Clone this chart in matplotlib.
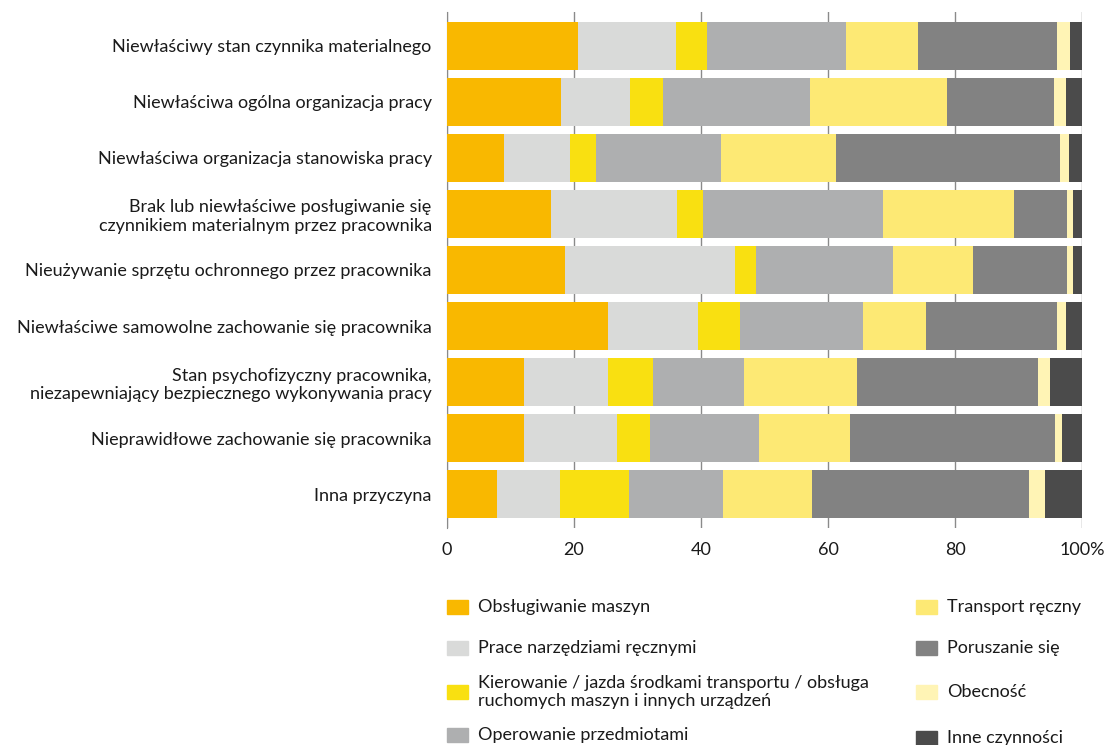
import numpy as np
import matplotlib.pyplot as plt
from matplotlib.patches import Rectangle

plt.rcParams['font.family'] = ['Lato', 'DejaVu Sans']

causes = [
    'Niewłaściwy stan czynnika materialnego',
    'Niewłaściwa ogólna organizacja pracy',
    'Niewłaściwa organizacja stanowiska pracy',
    'Brak lub niewłaściwe posługiwanie się\nczynnikiem materialnym przez pracownika',
    'Nieużywanie sprzętu ochronnego przez pracownika',
    'Niewłaściwe samowolne zachowanie się pracownika',
    'Stan psychofizyczny pracownika,\nniezapewniający bezpiecznego wykonywania pracy',
    'Nieprawidłowe zachowanie się pracownika',
    'Inna przyczyna',
]

activities = [
    'Obsługiwanie maszyn',
    'Prace narzędziami ręcznymi',
    'Kierowanie / jazda środkami transportu / obsługa\nruchomych maszyn i innych urządzeń',
    'Operowanie przedmiotami',
    'Transport ręczny',
    'Poruszanie się',
    'Obecność',
    'Inne czynności',
]

colors = ['#F9B800', '#D9DAD9', '#F9E011', '#AEAFB0',
          '#FDE974', '#828282', '#FFF4B5', '#4B4B4B']

# shares (%) per cause, one list per activity
obslugiwanie = [20.7, 18.0, 9.0, 16.3, 18.6, 25.3, 12.1, 12.1, 7.8]
narzedzia    = [15.3, 10.8, 10.3, 19.9, 26.7, 14.2, 13.2, 14.6, 10.0]
kierowanie   = [5.0, 5.2, 4.2, 4.1, 3.3, 6.6, 7.1, 5.3, 10.8]
operowanie   = [21.8, 23.1, 19.7, 28.3, 21.6, 19.4, 14.3, 17.2, 14.8]
transport    = [11.3, 21.7, 18.1, 20.7, 12.6, 9.9, 17.8, 14.3, 14.0]
poruszanie   = [21.9, 16.8, 35.2, 8.4, 14.9, 20.6, 28.5, 32.3, 34.2]
obecnosc     = [2.1, 1.8, 1.4, 0.8, 0.9, 1.4, 1.9, 1.1, 2.5]
inne         = [1.9, 2.6, 2.1, 1.5, 1.4, 2.6, 5.1, 3.1, 5.9]

series = [obslugiwanie, narzedzia, kierowanie, operowanie,
          transport, poruszanie, obecnosc, inne]

fig = plt.figure(figsize=(11.1, 7.45), dpi=100)
ax = fig.add_axes([0.4027, 0.2913, 0.5721, 0.6926])

y = np.arange(len(causes))
left = np.zeros(len(causes))
for vals, col, lab in zip(series, colors, activities):
    vals = np.array(vals)
    ax.barh(y, vals, left=left, height=0.86, color=col, label=lab, zorder=3)
    left += vals

ax.set_ylim(8.6, -0.6)
ax.set_xlim(0, 100)
ax.set_xticks([0, 20, 40, 60, 80, 100])
ax.set_xticklabels(['0', '20', '40', '60', '80', '100%'])
ax.set_yticks(y)
ax.set_yticklabels(causes)
ax.grid(axis='x', color='#8a8a8a', lw=1, zorder=0)
for s in ['top', 'right', 'bottom']:
    ax.spines[s].set_visible(False)
ax.spines['left'].set_color('#8a8a8a')
ax.tick_params(axis='both', length=0, labelsize=13, colors='#1a1a1a')
ax.tick_params(axis='x', pad=10)
ax.tick_params(axis='y', pad=11)

# legend, two columns laid out by hand
W, H = 1110, 745
rows_left = [607, 648, 692, 735]
rows_right = [607, 648, 692, 738]
for i, lab in enumerate(activities):
    if i < 4:
        px, py = 447, rows_left[i]
    else:
        px, py = 916, rows_right[i - 4]
    fig.patches.append(Rectangle((px / W, 1 - (py + 7) / H), 21 / W, 14 / H,
                                 transform=fig.transFigure, color=colors[i]))
    fig.text((px + 31) / W, 1 - py / H, lab, ha='left', va='center',
             fontsize=13, color='#1a1a1a', linespacing=1.15)

fig.savefig('out.png', dpi=100)
